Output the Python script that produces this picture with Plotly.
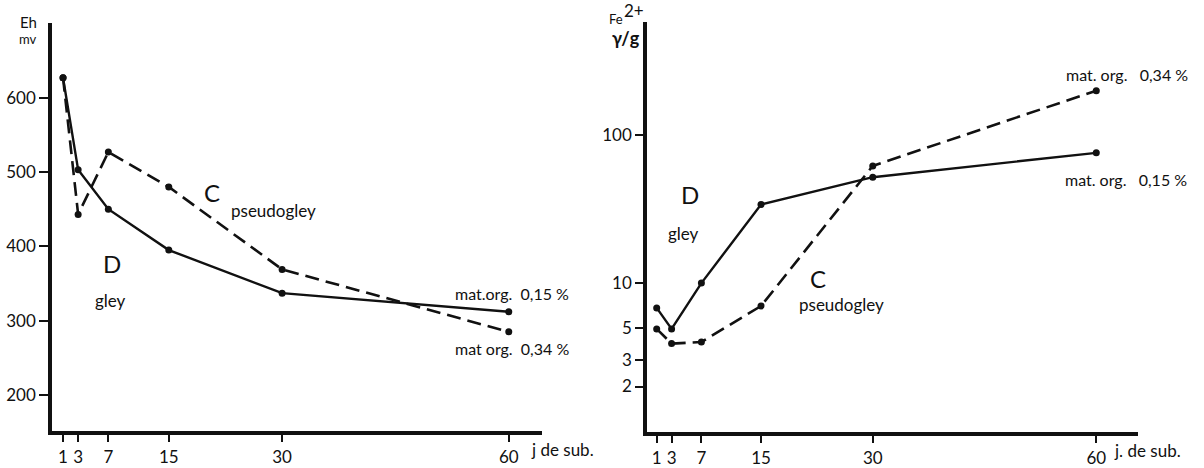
import plotly.graph_objects as go

# ---- data ----
days = [1, 3, 7, 15, 30, 60]
eh_gley_D = [627, 503, 450, 395, 337, 312]          # mat. org. 0,15 %
eh_pseudogley_C = [627, 443, 527, 480, 369, 285]    # mat. org. 0,34 %
fe_gley_D = [6.8, 4.9, 10, 34, 52, 76]              # mat. org. 0,15 %
fe_pseudogley_C = [4.9, 3.9, 4.0, 7.0, 62, 200]     # mat. org. 0,34 %
x_ticks = [1, 3, 7, 15, 30, 60]
eh_ticks = [200, 300, 400, 500, 600]
fe_ticks = [2, 3, 5, 10, 100]

W, H = 1204, 468
FONT = "Lato"
BLACK = "#111111"


def P(x, y):
    return x / W, 1 - y / H


fig = go.Figure()

marker = dict(size=7, color=BLACK)
solid = dict(color=BLACK, width=2.4)
dashed = dict(color=BLACK, width=2.6, dash="14px,7px")
fig.add_trace(go.Scatter(x=days, y=eh_gley_D, mode="lines+markers", line=solid,
                         marker=marker, xaxis="x", yaxis="y", showlegend=False))
fig.add_trace(go.Scatter(x=days, y=eh_pseudogley_C, mode="lines+markers", line=dashed,
                         marker=marker, xaxis="x", yaxis="y", showlegend=False))
fig.add_trace(go.Scatter(x=days, y=fe_gley_D, mode="lines+markers", line=solid,
                         marker=marker, xaxis="x2", yaxis="y2", showlegend=False))
fig.add_trace(go.Scatter(x=days, y=fe_pseudogley_C, mode="lines+markers", line=dashed,
                         marker=marker, xaxis="x2", yaxis="y2", showlegend=False))

axis_common = dict(showline=True, linecolor=BLACK, linewidth=3.5, showgrid=False,
                   zeroline=False, ticks="outside", tickcolor=BLACK, tickwidth=2,
                   tickfont=dict(family=FONT, size=17, color=BLACK))

fig.update_layout(
    width=W, height=H,
    margin=dict(l=0, r=0, t=0, b=0),
    paper_bgcolor="white", plot_bgcolor="white",
    xaxis=dict(domain=[52 / W, 542 / W], range=[-0.46, 64.4], tickvals=x_ticks,
               ticklen=7, anchor="y", **axis_common),
    yaxis=dict(domain=[1 - 437 / H, 1 - 23 / H], range=[151, 701], tickvals=eh_ticks,
               ticklen=9, anchor="x", **axis_common),
    xaxis2=dict(domain=[647 / W, 1138 / W], range=[-0.3, 65.6], tickvals=x_ticks,
                ticklen=7, anchor="y2", **axis_common),
    yaxis2=dict(domain=[1 - 438 / H, 1 - 22 / H], type="log", range=[-0.009, 2.767],
                tickvals=fe_ticks, ticktext=[str(v) for v in fe_ticks],
                ticklen=8, anchor="x2", **axis_common),
)

texts = [
    # left panel
    ("Eh", 28, 22, 15, "center"),
    ("mv", 28, 40, 13, "center"),
    ("C", 212, 195, 24, "center"),
    ("pseudogley", 273, 213, 17, "center"),
    ("D", 112, 267, 24, "center"),
    ("gley", 110, 304, 17, "center"),
    ("mat.org.  0,15 %", 512, 297, 16, "center"),
    ("mat org.  0,34 %", 512, 353, 16, "center"),
    ("j de sub.", 529, 455, 17, "left"),
    # right panel
    ("Fe", 616, 19, 13, "center"),
    ("2+", 634, 11, 17, "center"),
    ("<b>γ/g</b>", 626, 38, 18, "center"),
    ("D", 690, 197, 24, "center"),
    ("gley", 684, 237, 17, "center"),
    ("C", 818, 282, 24, "center"),
    ("pseudogley", 841, 308, 17, "center"),
    ("mat. org.   0,34 %", 1127, 75, 16, "center"),
    ("mat. org.   0,15 %", 1126, 182, 16, "center"),
    ("j. de sub.", 1112, 456, 17, "left"),
]
for t, x, y, s, al in texts:
    px, py = P(x, y)
    fig.add_annotation(text=t, x=px, y=py, xref="paper", yref="paper",
                       xanchor=al, yanchor="middle", showarrow=False,
                       font=dict(family=FONT, size=s, color=BLACK))

fig.write_html("out.html")
